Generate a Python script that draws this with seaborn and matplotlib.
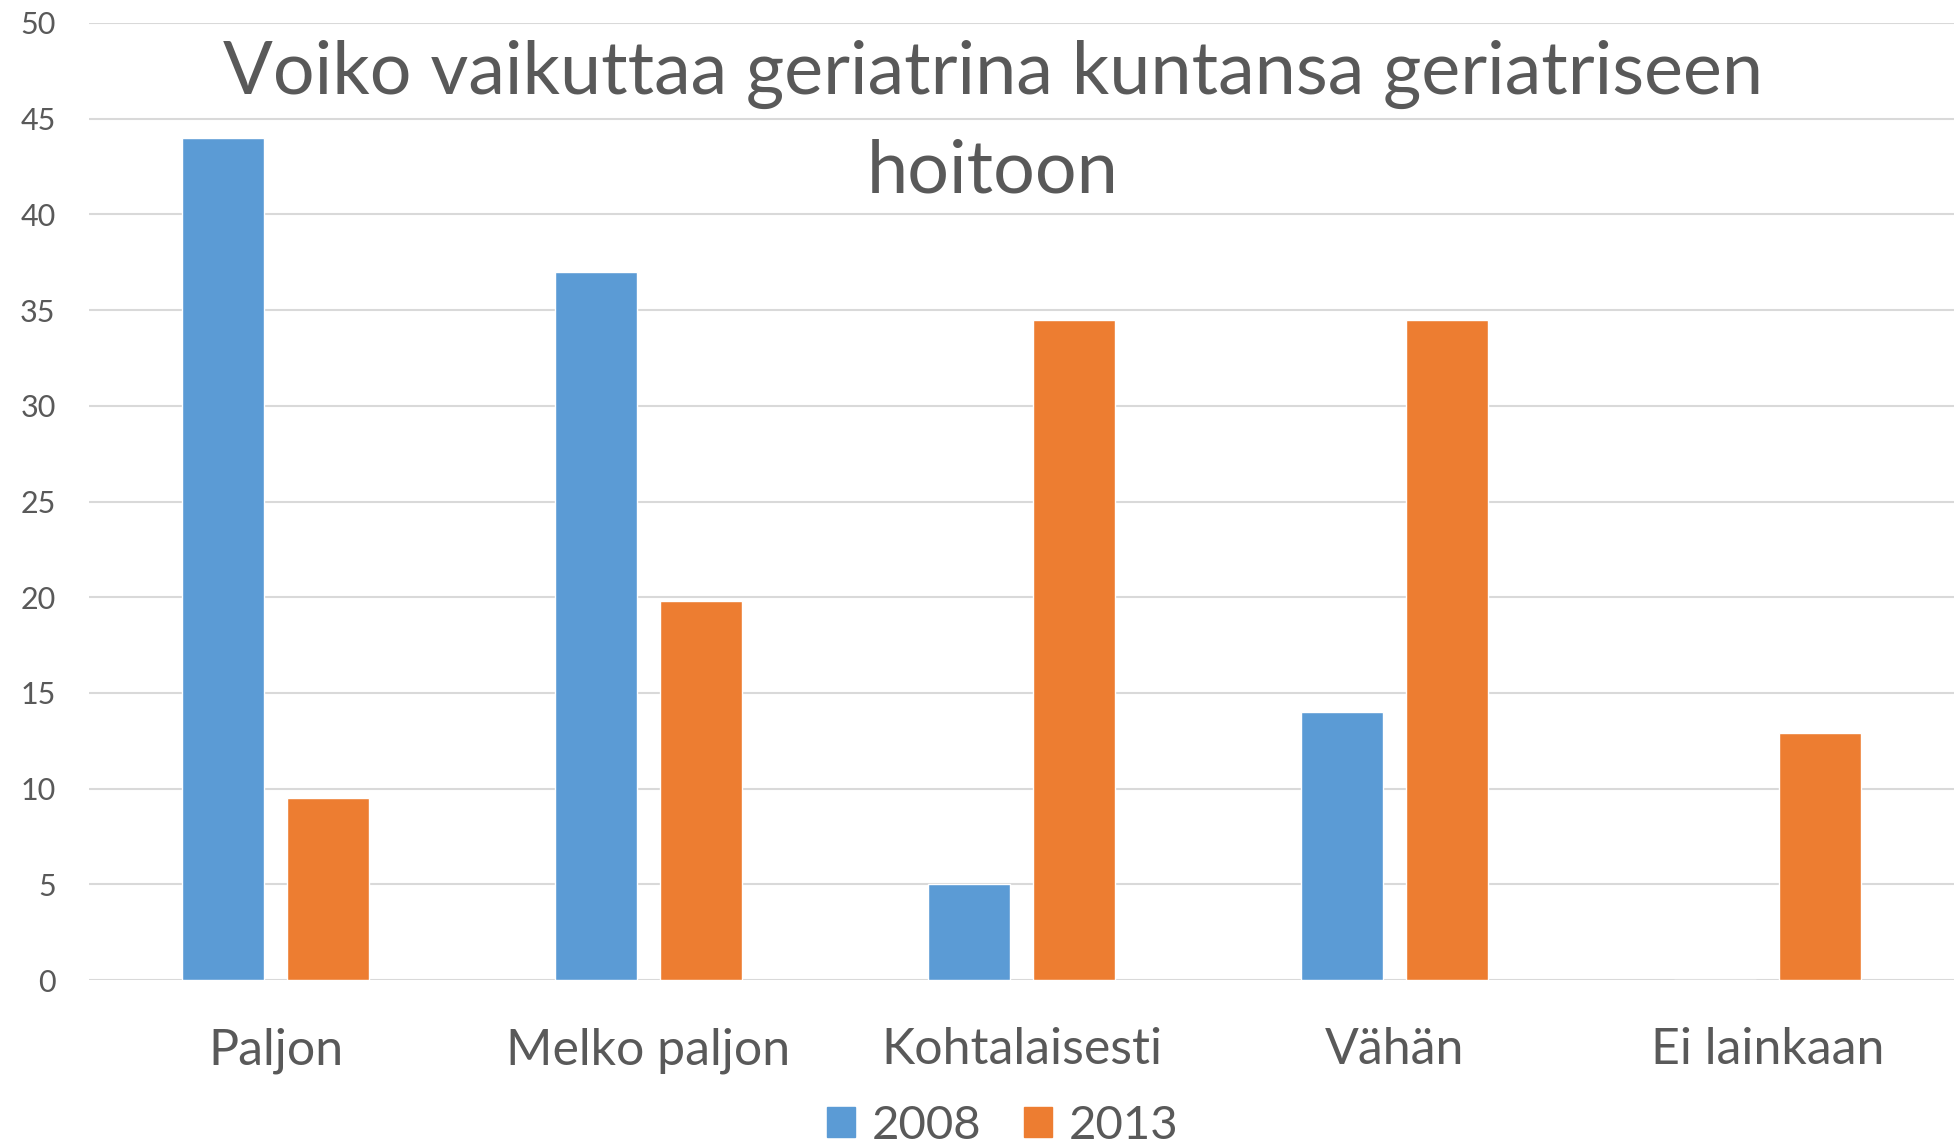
import numpy as np
import pandas as pd
import matplotlib
matplotlib.use("Agg")
import matplotlib.pyplot as plt
import seaborn as sns

# Chart data
categories = ["Paljon", "Melko paljon", "Kohtalaisesti", "Vähän", "Ei lainkaan"]
years = ["2008", "2013"]
values_2008 = [44, 37, 5, 14, 0]
values_2013 = [9.5, 19.8, 34.5, 34.5, 12.9]
y_ticks = [0, 5, 10, 15, 20, 25, 30, 35, 40, 45, 50]

title = "Voiko vaikuttaa geriatrina kuntansa geriatriseen\nhoitoon"
colors = ["#5B9BD5", "#ED7D31"]
text_color = "#595959"

df = pd.DataFrame({
    "kategoria": categories * 2,
    "vuosi": [years[0]] * len(categories) + [years[1]] * len(categories),
    "arvo": values_2008 + values_2013,
})

sns.set_style("white")
plt.rcParams["font.family"] = ["Lato", "DejaVu Sans"]

fig = plt.figure(figsize=(19.54, 11.43), dpi=100)
ax = fig.add_axes([89 / 1954, 163 / 1143, 1 - 89 / 1954, (980 - 23) / 1143])

sns.barplot(data=df, x="kategoria", y="arvo", hue="vuosi", palette=colors,
            width=0.567, gap=0.224, ax=ax, legend=False, saturation=1)

ax.set_xlim(-0.5, 4.5)
ax.set_ylim(0, 50)
ax.set_yticks(y_ticks)
ax.set_xlabel("")
ax.set_ylabel("")
ax.grid(axis="y", color="#D9D9D9", linewidth=1.5)
ax.set_axisbelow(True)
for s in ax.spines.values():
    s.set_visible(False)
ax.tick_params(axis="y", length=0, pad=24, labelsize=22, labelcolor=text_color)
ax.tick_params(axis="x", length=0, pad=34, labelsize=36, labelcolor=text_color)

fig.text(0.508, 0.893, title, ha="center", va="center", fontsize=53,
         color=text_color, linespacing=1.55)

handles = [plt.Rectangle((0, 0), 1, 1, color=c) for c in colors]
fig.legend(handles, years, loc="center", bbox_to_anchor=(0.513, 0.015), ncol=2,
           frameon=False, fontsize=34, labelcolor=text_color, handlelength=0.6,
           handleheight=0.6, handletextpad=0.35, columnspacing=0.9)

fig.savefig("out.png", dpi=100)
